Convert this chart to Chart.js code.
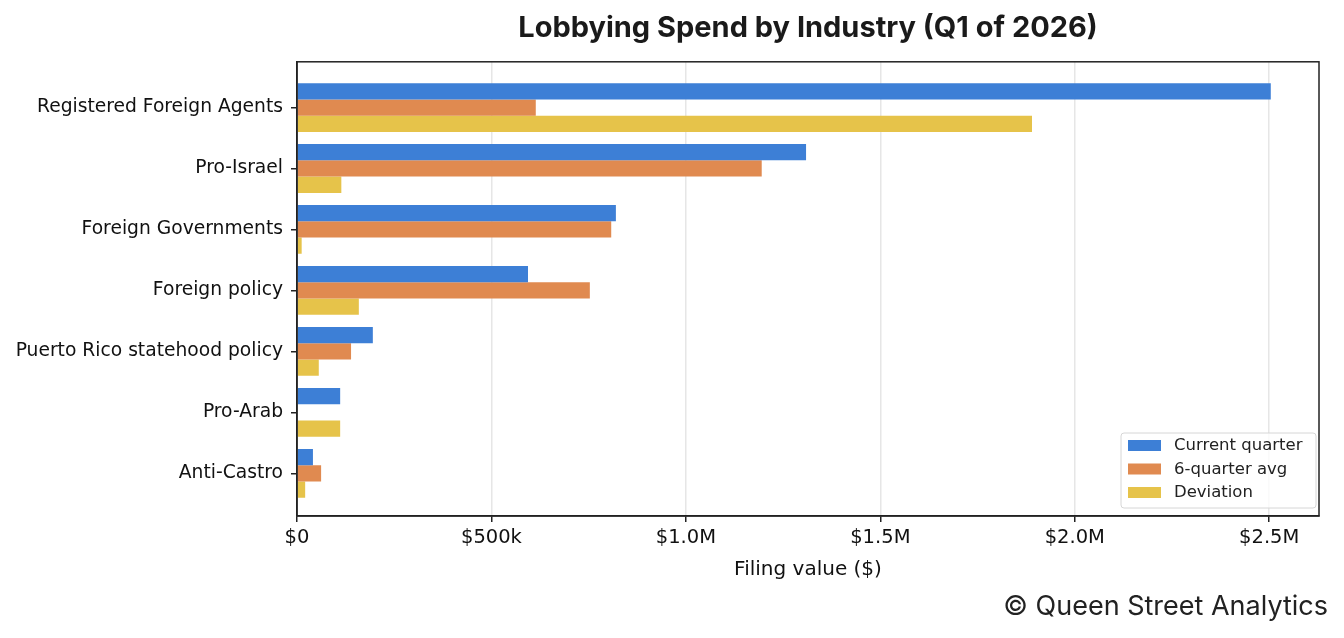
<!DOCTYPE html>
<html>
<head>
<meta charset="utf-8">
<script src="https://cdn.jsdelivr.net/npm/chart.js@4/dist/chart.umd.min.js"></script>
<style>
  html, body { margin: 0; padding: 0; background: #fff; }
  #wrap { width: 1344px; height: 638px; }
</style>
</head>
<body>
<div id="wrap"><canvas id="chart" width="1344" height="638"></canvas></div>
<script>
const industries = [
  "Registered Foreign Agents",
  "Pro-Israel",
  "Foreign Governments",
  "Foreign policy",
  "Puerto Rico statehood policy",
  "Pro-Arab",
  "Anti-Castro"
];
const currentQuarter = [2504000, 1309000, 820000, 594000, 195000, 111000, 41000];
const sixQuarterAvg = [614000, 1195000, 808000, 753000, 139000, 0, 62000];
const deviation = [1890000, 114000, 12000, 159000, 56000, 111000, 21000];
const xTickValues = [0, 500000, 1000000, 1500000, 2000000, 2500000];
const xTickLabels = ["$0", "$500k", "$1.0M", "$1.5M", "$2.0M", "$2.5M"];

const toPoints = (vals) => vals.map((v, i) => ({ x: v, y: i }));

const boxPlugin = {
  id: "box",
  afterDraw(chart) {
    const { ctx, chartArea: a } = chart;
    ctx.save();
    ctx.strokeStyle = "#222";
    ctx.lineWidth = 1.5;
    ctx.strokeRect(a.left, a.top, a.right - a.left, a.bottom - a.top);

    // legend inside the plot, lower right
    const sets = chart.data.datasets;
    const lx = 1121, ly = 433, lw = 195, lh = 75;
    ctx.fillStyle = "rgba(255,255,255,0.8)";
    ctx.strokeStyle = "#d6d6d6";
    ctx.lineWidth = 1;
    ctx.beginPath();
    ctx.roundRect(lx, ly, lw, lh, 3);
    ctx.fill();
    ctx.stroke();
    ctx.font = "16.5px 'DejaVu Sans'";
    ctx.textBaseline = "middle";
    sets.forEach((ds, i) => {
      const y = ly + 12 + i * 23.5;
      ctx.fillStyle = ds.backgroundColor;
      ctx.fillRect(lx + 7, y - 5, 33, 11);
      ctx.fillStyle = "#222";
      ctx.fillText(ds.label, lx + 53, y + 1);
    });

    // footer
    ctx.font = "27px Inter";
    ctx.textAlign = "right";
    ctx.textBaseline = "middle";
    ctx.fillStyle = "#222";
    ctx.fillText("\u00a9 Queen Street Analytics", 1328, 607);
    ctx.restore();
  }
};

new Chart(document.getElementById("chart"), {
  type: "bar",
  data: {
    datasets: [
      { label: "Current quarter", data: toPoints(currentQuarter), backgroundColor: "#3d7fd6" },
      { label: "6-quarter avg", data: toPoints(sixQuarterAvg), backgroundColor: "#e08a50" },
      { label: "Deviation", data: toPoints(deviation), backgroundColor: "#e6c34a" }
    ]
  },
  options: {
    indexAxis: "y",
    responsive: false,
    animation: false,
    layout: { padding: { left: 0, right: 25, top: 0, bottom: 50 } },
    datasets: { bar: { categoryPercentage: 0.8, barPercentage: 1.0 } },
    plugins: {
      legend: { display: false },
      tooltip: { enabled: false },
      title: {
        display: true,
        fullSize: false,
        text: "Lobbying Spend by Industry (Q1 of 2026)",
        color: "#1a1a1a",
        font: { family: "Inter", size: 29, weight: "bold" },
        padding: { top: 11, bottom: 16 }
      }
    },
    scales: {
      x: {
        type: "linear",
        min: 0,
        max: 2628000,
        afterBuildTicks: (s) => { s.ticks = xTickValues.map((v) => ({ value: v })); },
        afterFit: (s) => { s.height = 72; },
        ticks: {
          color: "#111",
          padding: 4,
          font: { family: "DejaVu Sans", size: 19.5 },
          callback: (v) => xTickLabels[xTickValues.indexOf(v)]
        },
        grid: { color: "#e6e6e6", lineWidth: 1.5, tickColor: "#222", tickLength: 6 },
        border: { color: "#222", width: 1.5 },
        title: {
          display: true,
          text: "Filing value ($)",
          color: "#111",
          font: { family: "DejaVu Sans", size: 20 },
          padding: { top: 4, bottom: 6 }
        }
      },
      y: {
        type: "linear",
        reverse: true,
        offset: false,
        min: -0.75,
        max: 6.7,
        afterBuildTicks: (s) => { s.ticks = industries.map((_, i) => ({ value: i })); },
        afterFit: (s) => { s.width = 297; },
        ticks: {
          color: "#111",
          padding: 8,
          font: { family: "DejaVu Sans", size: 18.7 },
          callback: (v) => industries[v]
        },
        grid: { offset: false, drawOnChartArea: false, color: "#222", tickLength: 6, lineWidth: 1.5 },
        border: { color: "#222", width: 1.5 }
      }
    }
  },
  plugins: [boxPlugin]
});
</script>
</body>
</html>
